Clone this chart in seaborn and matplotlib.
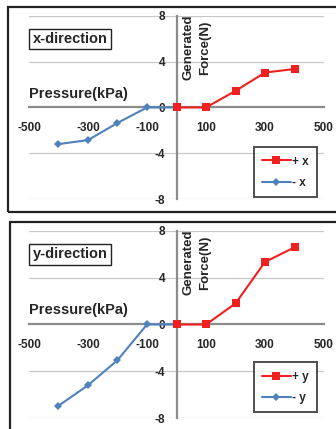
import matplotlib
matplotlib.use("Agg")
import matplotlib.pyplot as plt
import seaborn as sns
import pandas as pd
from matplotlib.patches import Rectangle

# pressure (kPa) and generated force (N)
pos_pressure = [0, 100, 200, 300, 400]
neg_pressure = [0, -100, -200, -300, -400]
force_pos_x = [0, 0, 1.45, 3.05, 3.36]
force_neg_x = [0, 0, -1.35, -2.85, -3.2]
force_pos_y = [0, 0, 1.8, 5.35, 6.6]
force_neg_y = [0, 0, -3.05, -5.2, -6.95]
x_ticks = [-500, -300, -100, 100, 300, 500]
y_ticks = [-8, -4, 0, 4, 8]

RED = "#f02020"
BLUE = "#4f81bd"
W, H = 336, 429

sns.set_theme(style="white")
plt.rcParams["font.family"] = ["Liberation Sans", "DejaVu Sans"]
plt.rcParams["font.weight"] = "bold"
plt.rcParams["axes.unicode_minus"] = False

fig = plt.figure(figsize=(W / 100, H / 100), dpi=100)

# (name, +series, -series, axes rect, frame px (left, top, right, bottom), legend anchor)
panels = [
    ("x", force_pos_x, force_neg_x, [0.0863, 0.536, 0.878, 0.427], (8, 7, 340, 212), (0.975, 0.01)),
    ("y", force_pos_y, force_neg_y, [0.0863, 0.0256, 0.878, 0.436], (10, 222, 340, 440), (0.975, 0.03)),
]

for name, fpos, fneg, rect, frame, anchor in panels:
    fx0, ft, fx1, fb = frame
    fig.patches.append(Rectangle((fx0 / W, 1 - fb / H), (fx1 - fx0) / W, (fb - ft) / H,
                                 transform=fig.transFigure, fill=False, ec="#222222", lw=1.6))
    ax = fig.add_axes(rect)
    ax.set_facecolor("none")
    df_pos = pd.DataFrame({"p": pos_pressure, "f": fpos})
    df_neg = pd.DataFrame({"p": neg_pressure, "f": fneg})
    sns.lineplot(data=df_neg, x="p", y="f", ax=ax, color=BLUE, marker="D", markersize=4,
                 markeredgewidth=0, lw=1.5, label="- " + name, sort=False, zorder=3)
    sns.lineplot(data=df_pos, x="p", y="f", ax=ax, color=RED, marker="s", markersize=6,
                 markeredgewidth=0, lw=1.5, label="+ " + name, sort=False, zorder=4)
    ax.set_xlim(-500, 500)
    ax.set_ylim(-8, 8)
    ax.set_xticks(x_ticks)
    ax.set_yticks(y_ticks)
    ax.set_xlabel("")
    ax.set_ylabel("")
    for y in [-8, -4, 4, 8]:
        ax.axhline(y, color="#c8c8c8", lw=0.9, zorder=0)
    for s in ["top", "right"]:
        ax.spines[s].set_visible(False)
    for s in ["left", "bottom"]:
        ax.spines[s].set_position(("data", 0))
        ax.spines[s].set_color("#8c8c8c")
        ax.spines[s].set_linewidth(1.6)
    ax.tick_params(axis="both", which="both", length=3, width=1.2, color="#8c8c8c",
                   labelsize=8.5)
    ax.tick_params(axis="y", direction="out", length=4, pad=4)
    ax.tick_params(axis="x", direction="inout", length=5, pad=8)
    for lab in ax.get_xticklabels() + ax.get_yticklabels():
        lab.set_fontweight("bold")
    ax.text(-500, 1.2, "Pressure(kPa)", fontsize=10.5, fontweight="bold", ha="left", va="center")
    ax.text(-488, 6.0, name + "-direction", fontsize=10.5, fontweight="bold", ha="left", va="center",
            bbox=dict(boxstyle="square,pad=0.22", fc="white", ec="#222222", lw=1.0))
    ax.text(70, 8.1, "Generated\nForce(N)", fontsize=9.5, fontweight="bold", rotation=90,
            ha="center", va="top", linespacing=1.5)
    handles, labels = ax.get_legend_handles_labels()
    leg = ax.legend(handles[::-1], labels[::-1], loc="lower right", bbox_to_anchor=anchor,
                    fontsize=8.5, frameon=True, fancybox=False, edgecolor="#222222",
                    handlelength=2.4, handletextpad=0.1, borderpad=0.7, labelspacing=0.8,
                    borderaxespad=0)
    leg.get_frame().set_linewidth(1.4)
    for t in leg.get_texts():
        t.set_fontweight("bold")

fig.savefig("out.png", dpi=100)
